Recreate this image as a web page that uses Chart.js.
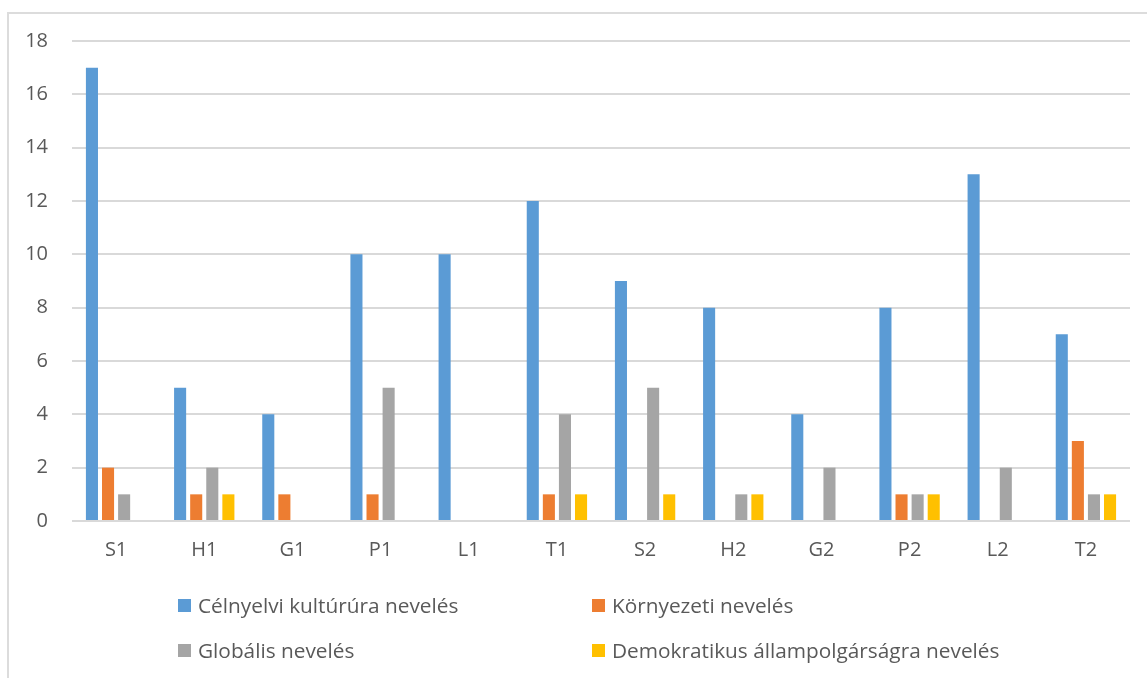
<!DOCTYPE html>
<html lang="hu">
<head>
<meta charset="utf-8">
<title>Nevelési területek</title>
<script src="https://cdn.jsdelivr.net/npm/chart.js@4.4.1/dist/chart.umd.min.js"></script>
<style>
  html, body { margin: 0; padding: 0; background: #ffffff; }
  #wrap { position: relative; width: 1147px; height: 678px; overflow: hidden; }
  #frame { position: absolute; left: 7px; top: 12px; width: 1160px; height: 700px;
           border-left: 2px solid #dcdcdc; border-top: 2px solid #dcdcdc; box-sizing: border-box; }
  canvas { position: absolute; left: 0; top: 0; }
  .leg { position: absolute; display: flex; align-items: center; height: 28px;
         font-family: "Open Sans", "Liberation Sans", sans-serif; font-size: 20.8px; color: #595959; white-space: nowrap; }
  .leg i { display: inline-block; width: 13px; height: 13px; margin-right: 7px; }
</style>
</head>
<body>
<div id="wrap">
  <div id="frame"></div>
  <canvas id="c" width="1147" height="678"></canvas>
  <div id="legend"></div>
</div>
<script>
// Categories (S = first round, H/G/P/L/T groups, 1 and 2)
const categories = ["S1", "H1", "G1", "P1", "L1", "T1", "S2", "H2", "G2", "P2", "L2", "T2"];

// Series names
const seriesNames = [
  "Célnyelvi kultúrúra nevelés",
  "Környezeti nevelés",
  "Globális nevelés",
  "Demokratikus állampolgárságra nevelés"
];

// Counts per category
const celnyelvi   = [17, 5, 4, 10, 10, 12, 9, 8, 4, 8, 13, 7];
const kornyezeti  = [2, 1, 1, 1, 0, 1, 0, 0, 0, 1, 0, 3];
const globalis    = [1, 2, 0, 5, 0, 4, 5, 1, 2, 1, 2, 1];
const demokratikus= [0, 1, 0, 0, 0, 1, 1, 1, 0, 1, 0, 1];

// Y axis ticks
const yTicks = [0, 2, 4, 6, 8, 10, 12, 14, 16, 18];

const seriesColors = ["#5B9BD5", "#ED7D31", "#A5A5A5", "#FFC000"];
const seriesValues = [celnyelvi, kornyezeti, globalis, demokratikus];

const textColor = "#595959";
const fontFamily = '"Open Sans", "Liberation Sans", sans-serif';

new Chart(document.getElementById("c"), {
  type: "bar",
  data: {
    labels: categories,
    datasets: seriesValues.map((vals, i) => ({
      label: seriesNames[i],
      data: vals,
      backgroundColor: seriesColors[i],
      borderWidth: 0,
      categoryPercentage: 0.73,
      barPercentage: 0.75
    }))
  },
  options: {
    responsive: false,
    animation: false,
    layout: { padding: { left: 0, right: 17, top: 41, bottom: 111 } },
    plugins: {
      legend: { display: false },
      tooltip: { enabled: false }
    },
    scales: {
      x: {
        grid: { display: false, drawTicks: false },
        border: { display: false },
        ticks: { color: textColor, padding: 17, font: { family: fontFamily, size: 20 } },
        afterFit: s => { s.height = 46; }
      },
      y: {
        min: 0,
        max: 18,
        afterBuildTicks: s => { s.ticks = yTicks.map(v => ({ value: v })); },
        grid: { color: "#d9d9d9", lineWidth: 2, drawTicks: false },
        border: { display: false },
        ticks: { color: textColor, padding: 24, font: { family: fontFamily, size: 20 } },
        afterFit: s => { s.width = 72; }
      }
    }
  }
});

// Legend in two columns below the plot
const legend = document.getElementById("legend");
const legendPos = [[178, 591], [592, 591], [178, 636], [592, 636]];
seriesNames.forEach((name, i) => {
  const d = document.createElement("div");
  d.className = "leg";
  d.style.left = legendPos[i][0] + "px";
  d.style.top = legendPos[i][1] + "px";
  const sw = document.createElement("i");
  sw.style.background = seriesColors[i];
  d.appendChild(sw);
  d.appendChild(document.createTextNode(name));
  legend.appendChild(d);
});
</script>
</body>
</html>
